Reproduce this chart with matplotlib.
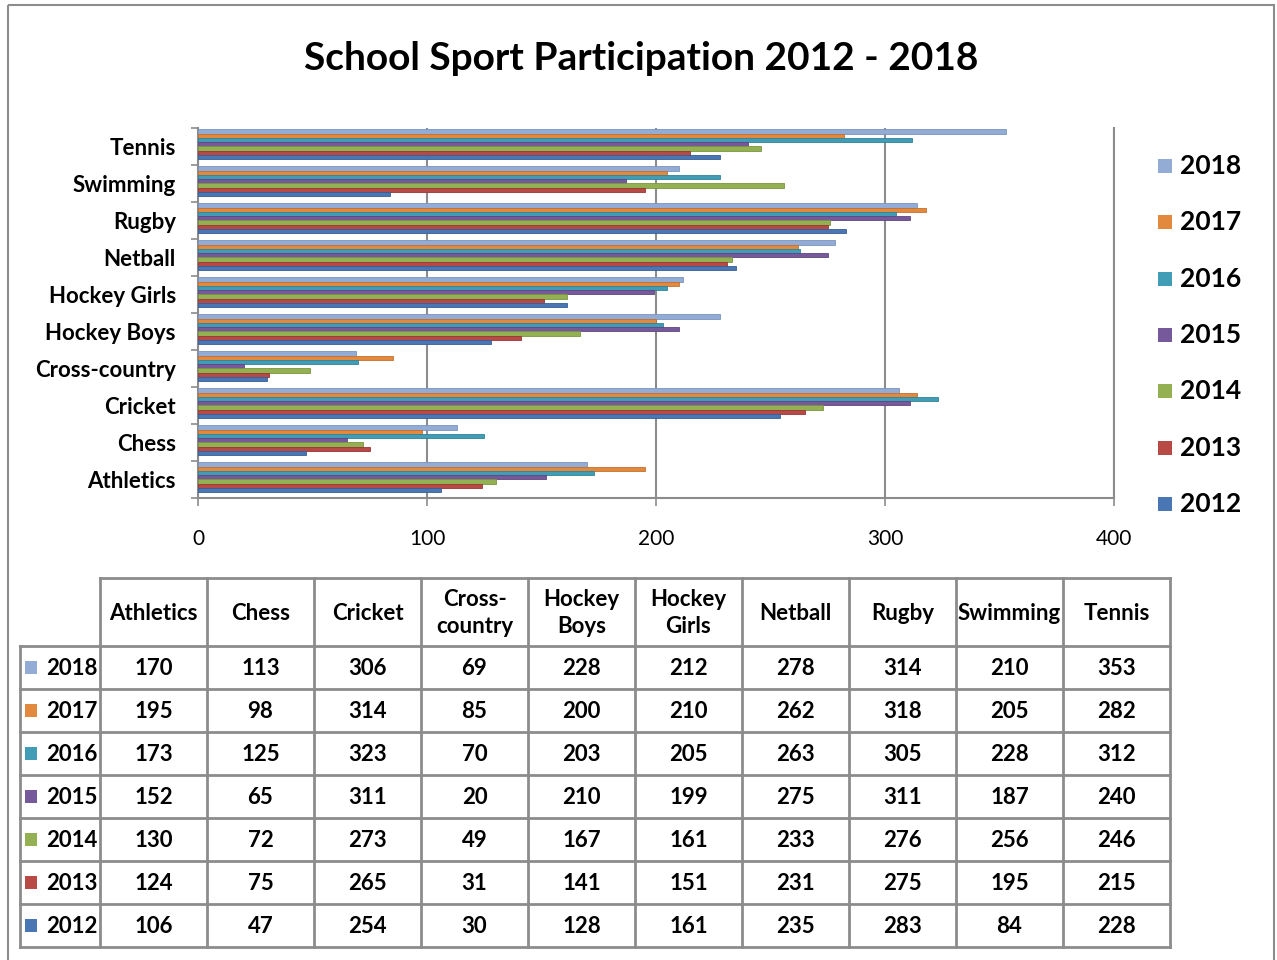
import matplotlib
matplotlib.use("Agg")
import matplotlib.pyplot as plt
from matplotlib.patches import Rectangle
import numpy as np

plt.rcParams['font.family'] = ['Lato', 'DejaVu Sans']

# date
sports = ['Athletics', 'Chess', 'Cricket', 'Cross-country', 'Hockey Boys',
          'Hockey Girls', 'Netball', 'Rugby', 'Swimming', 'Tennis']
header_labels = ['Athletics', 'Chess', 'Cricket', 'Cross-\ncountry', 'Hockey\nBoys',
                 'Hockey\nGirls', 'Netball', 'Rugby', 'Swimming', 'Tennis']
years = ['2018', '2017', '2016', '2015', '2014', '2013', '2012']

v2018 = [170, 113, 306, 69, 228, 212, 278, 314, 210, 353]
v2017 = [195, 98, 314, 85, 200, 210, 262, 318, 205, 282]
v2016 = [173, 125, 323, 70, 203, 205, 263, 305, 228, 312]
v2015 = [152, 65, 311, 20, 210, 199, 275, 311, 187, 240]
v2014 = [130, 72, 273, 49, 167, 161, 233, 276, 256, 246]
v2013 = [124, 75, 265, 31, 141, 151, 231, 275, 195, 215]
v2012 = [106, 47, 254, 30, 128, 161, 235, 283, 84, 228]
valori = [v2018, v2017, v2016, v2015, v2014, v2013, v2012]

culori = ['#93ACD6', '#E3893E', '#409DB5', '#76599B', '#93B052', '#B84A46', '#4A76B3']
margini = ['#7A93BD', '#C47030', '#2F8399', '#5E4582', '#7A963E', '#993532', '#365E96']
gri = '#8C8C8C'

W, H = 1277, 960
fig = plt.figure(figsize=(W / 100, H / 100), dpi=100)

# fundal + chenar exterior
ax_bg = fig.add_axes([0, 0, 1, 1])
ax_bg.set_xlim(0, W)
ax_bg.set_ylim(H, 0)
ax_bg.axis('off')
ax_bg.add_patch(Rectangle((8, 5), 1266, 960, fill=False, edgecolor=gri, linewidth=1.5))

fig.text(641 / W, 1 - 59 / H, 'School Sport Participation 2012 - 2018',
         ha='center', va='center', fontsize=28, fontweight='bold')

# graficul cu bare
x0, x1, y0, y1 = 198, 1114, 128, 498
ax = fig.add_axes([x0 / W, 1 - y1 / H, (x1 - x0) / W, (y1 - y0) / H])
n = len(sports)
poz = np.arange(n)
h = 0.115
for i, (an, vals) in enumerate(zip(years, valori)):
    offset = (3 - i) * h + 0.06
    ax.barh(poz + offset, vals, height=h, color=culori[i], edgecolor=margini[i],
            linewidth=0.6, zorder=3)
ax.set_xlim(0, 400)
ax.set_ylim(-0.5, n - 0.5)
ax.set_xticks([0, 100, 200, 300, 400])
ax.set_xticklabels(['0', '100', '200', '300', '400'], fontsize=15)
ax.set_yticks(poz)
ax.set_yticklabels(sports, fontsize=16, fontweight='bold')
ax.set_yticks(np.arange(-0.5, n, 1), minor=True)
ax.tick_params(axis='y', which='major', length=0, pad=16)
ax.tick_params(axis='y', which='minor', length=5, color=gri, width=1.2)
ax.tick_params(axis='x', length=6, color=gri, width=1.2, pad=16, direction='out')
ax.grid(axis='x', color=gri, linewidth=1.5, zorder=0)
ax.spines['top'].set_visible(False)
for s in ['left', 'bottom', 'right']:
    ax.spines[s].set_color(gri)
    ax.spines[s].set_linewidth(1.5)

# legenda
for i, an in enumerate(years):
    yy = 166 + i * 56.3
    ax_bg.add_patch(Rectangle((1158, yy - 7), 14, 14, facecolor=culori[i], edgecolor='none'))
    ax_bg.text(1180, yy, an, fontsize=19, va='center', ha='left', fontweight='bold')

# tabelul de date
col_x = [100 + 107 * k for k in range(n + 1)]
row_y = [578, 646] + [646 + 43 * (k + 1) for k in range(len(years))]
lw = 2
ax_bg.plot([col_x[0], col_x[-1]], [row_y[0], row_y[0]], color=gri, lw=lw)
for yy in row_y[1:]:
    ax_bg.plot([20, col_x[-1]], [yy, yy], color=gri, lw=lw)
for xx in col_x:
    ax_bg.plot([xx, xx], [row_y[0], row_y[-1]], color=gri, lw=lw)
ax_bg.plot([20, 20], [row_y[1], row_y[-1]], color=gri, lw=lw)

for k, et in enumerate(header_labels):
    ax_bg.text((col_x[k] + col_x[k + 1]) / 2, (row_y[0] + row_y[1]) / 2 + 1, et,
               ha='center', va='center', fontsize=16, fontweight='bold', linespacing=1.3)
for i, an in enumerate(years):
    yc = (row_y[i + 1] + row_y[i + 2]) / 2 + 1
    ax_bg.add_patch(Rectangle((25, yc - 8), 12, 13, facecolor=culori[i], edgecolor='none'))
    ax_bg.text(46, yc, an, ha='left', va='center', fontsize=16, fontweight='bold')
    for k, v in enumerate(valori[i]):
        ax_bg.text((col_x[k] + col_x[k + 1]) / 2, yc, str(v),
                   ha='center', va='center', fontsize=16, fontweight='bold')

fig.savefig('out.png', dpi=100)
